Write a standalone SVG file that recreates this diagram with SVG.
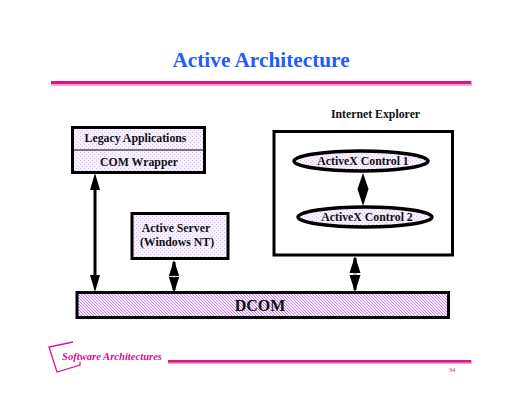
<svg xmlns="http://www.w3.org/2000/svg" width="520" height="402" viewBox="0 0 520 402">
<style>
text{font-family:"Liberation Serif","Times New Roman",serif;font-weight:bold;text-anchor:middle;fill:#111}
.box{stroke:#000;stroke-width:3}
.oval{stroke:#000;stroke-width:3.500}
.lt{fill:url(#dots)}
.lab{font-size:11.800px}
.con{stroke:#000;stroke-width:3;fill:none}
.head{fill:#000}
.rule{fill:#e0128c}
.ruleS{fill:#f0a8d0}
</style>
<defs>
<pattern id="dots" width="4" height="4" patternUnits="userSpaceOnUse">
<rect width="4" height="4" fill="#f7f0fd"/>
<rect width="1" height="1" fill="#d9bdf2"/>
<rect x="2" y="2" width="1" height="1" fill="#d9bdf2"/>
</pattern>
<pattern id="hatch" width="3" height="3" patternUnits="userSpaceOnUse">
<rect width="3" height="3" fill="#f6ecfd"/>
<rect width="1" height="1" fill="#c084ea"/>
<rect x="1" y="1" width="1" height="1" fill="#c084ea"/>
<rect x="2" y="2" width="1" height="1" fill="#c084ea"/>
</pattern>
</defs>
<rect width="520" height="402" fill="#fff"/>
<text x="261" y="67" style="font-size:21.300px;fill:#1f5cff">Active Architecture</text>
<rect class="ruleS" x="51" y="81" width="421" height="5"/>
<rect class="rule" x="51" y="81" width="420" height="3"/>
<text x="375.500" y="118" class="lab">Internet Explorer</text>
<g id="legacy">
<rect class="box lt" x="72.500" y="127.500" width="132" height="45"/>
<path d="M72 150H205" stroke="#000" stroke-width="1"/>
<text x="135.500" y="142" class="lab">Legacy Applications</text>
<text x="139" y="166" class="lab">COM Wrapper</text>
</g>
<g id="server">
<rect class="box lt" x="132" y="213.500" width="96" height="45"/>
<text x="176" y="232" class="lab">Active Server</text>
<text x="177" y="246" class="lab">(Windows NT)</text>
</g>
<g id="explorer">
<rect class="box" x="274" y="131.500" width="178.500" height="123.500" fill="#fff"/>
</g>
<g id="control1">
<ellipse class="oval lt" cx="361" cy="161" rx="67" ry="10"/>
<text x="363" y="165" class="lab">ActiveX Control 1</text>
</g>
<g id="control2">
<ellipse class="oval lt" cx="365" cy="217" rx="67" ry="10"/>
<text x="367" y="221" class="lab">ActiveX Control 2</text>
</g>
<g id="dcom">
<rect class="box" fill="url(#hatch)" x="77" y="292.500" width="371.500" height="25"/>
<text x="260" y="311" style="font-size:16px">DCOM</text>
</g>
<g id="connectors">
<path class="con" d="M95 185V280M174 262V290M355 258V290"/>
<path class="head" d="M95 173L100 190H90ZM95 292L100 275H90Z"/>
<path class="head" d="M174 260L179.500 277H168.500ZM174 293L179.500 276H168.500Z"/>
<path class="head" d="M355 256L360.500 273H349.500ZM355 292L360.500 275H349.500Z"/>
<path class="head" d="M363 173L368.500 189L363 206L357.500 189Z"/>
<path d="M172.500 276.500H175.500M353.500 274H356.500" stroke="#fff" stroke-width="1.500"/>
</g>
<g id="logo">
<path d="M73 342L49 347L57 372L80 365L80 362" fill="none" stroke="#e0128c" stroke-width="1.300"/>
<text x="112" y="360" style="font-size:10.600px;font-style:italic;fill:#d5108a">Software Architectures</text>
</g>
<rect class="ruleS" x="168" y="360" width="304" height="4"/>
<rect class="rule" x="168" y="360" width="303" height="2.500"/>
<text x="452" y="372" style="font-size:6.500px;font-weight:normal;fill:#e0128c">34</text>
</svg>
